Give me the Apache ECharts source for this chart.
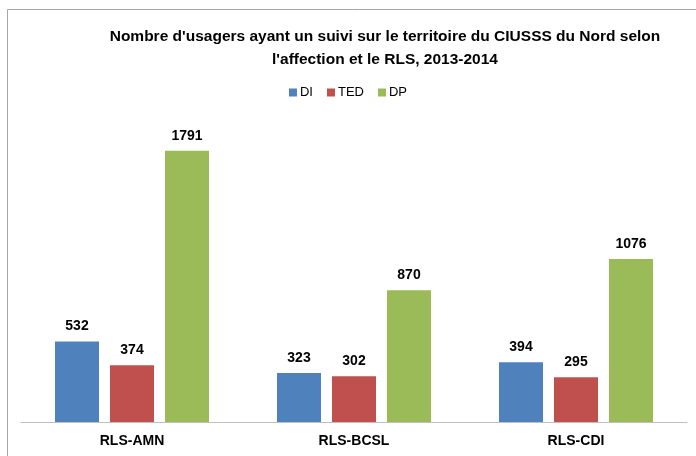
<!DOCTYPE html>
<html>
<head>
<meta charset="utf-8">
<script src="https://cdn.jsdelivr.net/npm/echarts@6/dist/echarts.min.js"></script>
<style>
  html, body { margin: 0; padding: 0; background: #fff; }
  #chart { width: 696px; height: 456px; }
</style>
</head>
<body>
<div id="chart"></div>
<script>
// values
var categories = ['RLS-AMN', 'RLS-BCSL', 'RLS-CDI']
var diValues = [532, 323, 394]
var tedValues = [374, 302, 295]
var dpValues = [1791, 870, 1076]

var font = '"Liberation Sans Narrow", "Liberation Sans", sans-serif'

var chart = echarts.init(document.getElementById('chart'))

function barSeries(name, data, color) {
    return {
        name: name,
        type: 'bar',
        barWidth: 44,
        barGap: '25%',
        itemStyle: { color: color },
        label: {
            show: true,
            position: 'top',
            distance: 8,
            color: '#000',
            fontFamily: font,
            fontWeight: 'bold',
            fontSize: 14
        },
        data: data
    }
}

chart.setOption({
    animation: false,
    title: {
        text: "Nombre d'usagers ayant un suivi sur le territoire du CIUSSS du Nord selon\nl'affection et le RLS, 2013-2014",
        left: 380,
        top: 20,
        textAlign: 'center',
        textStyle: {
            fontFamily: font,
            fontWeight: 'bold',
            fontSize: 15.5,
            lineHeight: 23,
            color: '#000'
        }
    },
    legend: {
        top: 81,
        left: 'center',
        itemWidth: 8,
        itemHeight: 8,
        itemGap: 14,
        icon: 'rect',
        textStyle: {
            fontFamily: font,
            fontSize: 13,
            color: '#000',
            padding: [0, 0, 0, -2]
        },
        data: ['DI', 'TED', 'DP']
    },
    grid: {
        left: 21,
        right: 9,
        top: 119,
        bottom: 34
    },
    xAxis: {
        type: 'category',
        data: categories,
        axisTick: { show: false },
        axisLine: { lineStyle: { color: '#BFBFBF', width: 1 } },
        axisLabel: {
            margin: 12,
            color: '#000',
            fontFamily: font,
            fontWeight: 'bold',
            fontSize: 14
        }
    },
    yAxis: {
        type: 'value',
        min: 0,
        max: 2000,
        show: false,
        splitLine: { show: false }
    },
    graphic: [{
        type: 'rect',
        shape: { x: 7.5, y: 9.5, width: 720, height: 480 },
        style: { fill: 'none', stroke: '#A6A6A6', lineWidth: 1 }
    }],
    series: [
        barSeries('DI', diValues, '#4F81BD'),
        barSeries('TED', tedValues, '#C0504D'),
        barSeries('DP', dpValues, '#9BBB59')
    ]
})
</script>
</body>
</html>
